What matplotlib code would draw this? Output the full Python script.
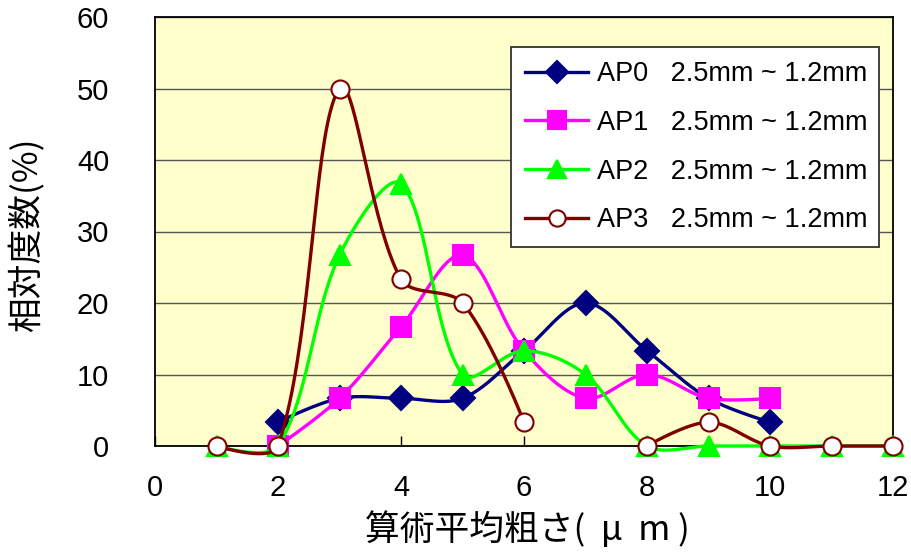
import numpy as np
import matplotlib
matplotlib.use("Agg")
import matplotlib.pyplot as plt
from matplotlib.lines import Line2D

# Surface roughness distribution data (relative frequency, %)
x_vals = [1, 2, 3, 4, 5, 6, 7, 8, 9, 10, 11, 12]
ap0 = [np.nan, 3.33, 6.67, 6.67, 6.67, 13.33, 20.0, 13.33, 6.67, 3.33, np.nan, np.nan]
ap1 = [np.nan, 0.0, 6.67, 16.67, 26.67, 13.33, 6.67, 10.0, 6.67, 6.67, np.nan, np.nan]
ap2 = [0.0, 0.0, 26.67, 36.67, 10.0, 13.33, 10.0, 0.0, 0.0, 0.0, 0.0, 0.0]
ap3 = [0.0, 0.0, 50.0, 23.33, 20.0, 3.33, np.nan, 0.0, 3.33, 0.0, 0.0, 0.0]

series_names = ["AP0", "AP1", "AP2", "AP3"]
series_label = "2.5mm ~ 1.2mm"
x_ticks = [0, 2, 4, 6, 8, 10, 12]
y_ticks = [0, 10, 20, 30, 40, 50, 60]

LATIN = "Liberation Sans"
CJK = ["Noto Sans CJK JP", "DejaVu Sans"]

fig = plt.figure(figsize=(9.11, 5.54), dpi=100)
ax = fig.add_axes([155 / 911, 1 - 446 / 554, 738 / 911, 429 / 554])
ax.set_facecolor("#FFFFCC")
ax.set_xlim(0, 12)
ax.set_ylim(0, 60)

for s in ax.spines.values():
    s.set_color("black")
    s.set_linewidth(1.3)

ax.set_xticks(x_ticks)
ax.set_yticks(y_ticks)
ax.tick_params(axis="x", direction="in", length=7, width=1, pad=20,
               labelsize=21, colors="black")
ax.tick_params(axis="y", length=0, pad=33, labelsize=21)
for lab in ax.get_xticklabels() + ax.get_yticklabels():
    lab.set_fontfamily(LATIN)
ax.yaxis.grid(True, color="#555555", linewidth=1.0)
ax.set_axisbelow(True)


def smooth_path(xs, ys, k=1 / 3, n=40):
    """Length-weighted cubic Bezier smoothing, evaluated in display space."""
    pts = ax.transData.transform(np.column_stack([xs, ys]))
    m = len(pts)
    if m < 2:
        return np.asarray(xs), np.asarray(ys)
    out = [pts[:1]]
    t = np.linspace(0, 1, n)[1:, None]
    for i in range(m - 1):
        p1, p2 = pts[i], pts[i + 1]
        d2 = np.linalg.norm(p2 - p1)
        if i > 0:
            p0 = pts[i - 1]
            d1 = np.linalg.norm(p1 - p0)
            c1 = p1 + (p2 - p0) * d2 / (d1 + d2) * k
        else:
            c1 = p1
        if i + 2 < m:
            p3 = pts[i + 2]
            d3 = np.linalg.norm(p3 - p2)
            c2 = p2 - (p3 - p1) * d2 / (d2 + d3) * k
        else:
            c2 = p2
        seg = ((1 - t) ** 3) * p1 + 3 * ((1 - t) ** 2) * t * c1 \
            + 3 * (1 - t) * t ** 2 * c2 + t ** 3 * p2
        out.append(seg)
    path = ax.transData.inverted().transform(np.vstack(out))
    return path[:, 0], path[:, 1]


styles = [
    dict(color="#000080", marker="D", ms=12, mfc="#000080", mec="#000080"),
    dict(color="#FF00FF", marker="s", ms=14, mfc="#FF00FF", mec="#FF00FF"),
    dict(color="#00FF00", marker="^", ms=15, mfc="#00FF00", mec="#00FF00"),
    dict(color="#800000", marker="o", ms=13, mfc="white", mec="#800000"),
]
all_series = [ap0, ap1, ap2, ap3]

handles = []
for z, (vals, st) in enumerate(zip(all_series, styles)):
    xs = np.array(x_vals, dtype=float)
    ys = np.array(vals, dtype=float)
    valid = ~np.isnan(ys)
    # split into runs of consecutive valid points
    runs, cur = [], []
    for xi, yi, ok in zip(xs, ys, valid):
        if ok:
            cur.append((xi, yi))
        elif cur:
            runs.append(cur)
            cur = []
    if cur:
        runs.append(cur)
    for run in runs:
        rx, ry = zip(*run)
        sx, sy = smooth_path(rx, ry)
        ax.plot(sx, sy, color=st["color"], lw=2.4, clip_on=False,
                zorder=3 + z * 2, solid_capstyle="round")
    ax.plot(xs[valid], ys[valid], linestyle="none", marker=st["marker"],
            ms=st["ms"], mfc=st["mfc"], mec=st["mec"], mew=1.5,
            clip_on=False, zorder=4 + z * 2)
    handles.append(Line2D([], [], color=st["color"], lw=2.4,
                          marker=st["marker"], ms=st["ms"] * 0.9,
                          mfc=st["mfc"], mec=st["mec"], mew=1.5))

labels = [f"{n}   {series_label}" for n in series_names]
leg = ax.legend(handles, labels, loc="upper left",
                bbox_to_anchor=(0.482, 0.478, 0.499, 0.452), mode="expand",
                frameon=True, fancybox=False, borderaxespad=0,
                prop={"family": LATIN, "size": 19.5}, handlelength=2.35,
                handletextpad=0.3, labelspacing=0.84, borderpad=0.52,
                numpoints=1)
leg.get_frame().set_edgecolor("#333333")
leg.get_frame().set_linewidth(1.3)
leg.get_frame().set_facecolor("white")
leg.get_frame().set_alpha(1)
leg.set_zorder(20)

fig.text(527 / 911, 1 - 530 / 554, "算術平均粗さ(  μ  m )", ha="center",
         va="center", fontsize=25, family=CJK)
fig.text(27 / 911, 1 - 235 / 554, "相対度数(%)", ha="center",
         va="center", rotation=90, fontsize=25, family=CJK)

fig.savefig("out.png", dpi=100, facecolor="white")
